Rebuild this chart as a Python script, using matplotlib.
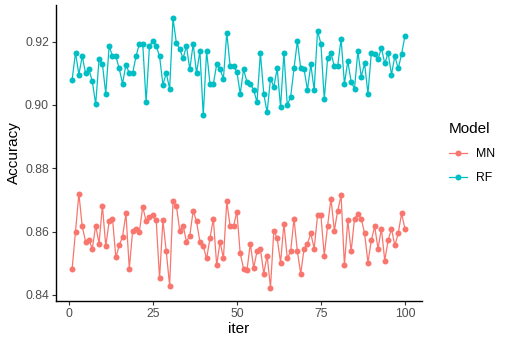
import matplotlib
matplotlib.use("Agg")
import matplotlib.pyplot as plt

plt.rcParams['font.family'] = ['Liberation Sans', 'DejaVu Sans']

# Accuracy per iteration
iters = list(range(1, 101))

rf_acc = [
    0.9080, 0.9165, 0.9096, 0.9154, 0.9100, 0.9112, 0.9074, 0.9002, 0.9144, 0.9129,
    0.9035, 0.9186, 0.9154, 0.9154, 0.9115, 0.9067, 0.9127, 0.9100, 0.9100, 0.9154,
    0.9193, 0.9193, 0.9009, 0.9186, 0.9202, 0.9186, 0.9154, 0.9064, 0.9100, 0.9051,
    0.9273, 0.9196, 0.9176, 0.9147, 0.9186, 0.9112, 0.9193, 0.9100, 0.9170, 0.8967,
    0.9170, 0.9067, 0.9066, 0.9128, 0.9112, 0.9083, 0.9228, 0.9122, 0.9122, 0.9105,
    0.9035, 0.9112, 0.9073, 0.9067, 0.9047, 0.9009, 0.9164, 0.9035, 0.8976, 0.9083,
    0.9057, 0.9115, 0.8993, 0.9164, 0.8999, 0.9025, 0.9115, 0.9202, 0.9115, 0.9112,
    0.9047, 0.9128, 0.9047, 0.9234, 0.9193, 0.9018, 0.9147, 0.9164, 0.9122, 0.9122,
    0.9209, 0.9067, 0.9138, 0.9073, 0.9051, 0.9170, 0.9089, 0.9131, 0.9035, 0.9164,
    0.9160, 0.9144, 0.9180, 0.9131, 0.9164, 0.9096, 0.9154, 0.9115, 0.9160, 0.9218,
]

mn_acc = [
    0.8483, 0.8600, 0.8720, 0.8616, 0.8568, 0.8572, 0.8546, 0.8619, 0.8562, 0.8682,
    0.8553, 0.8632, 0.8641, 0.8518, 0.8556, 0.8584, 0.8657, 0.8483, 0.8603, 0.8609,
    0.8600, 0.8679, 0.8632, 0.8647, 0.8651, 0.8635, 0.8452, 0.8635, 0.8537, 0.8429,
    0.8695, 0.8682, 0.8603, 0.8619, 0.8568, 0.8587, 0.8666, 0.8632, 0.8568, 0.8553,
    0.8515, 0.8578, 0.8641, 0.8493, 0.8568, 0.8515, 0.8695, 0.8616, 0.8616, 0.8663,
    0.8531, 0.8483, 0.8477, 0.8562, 0.8486, 0.8537, 0.8546, 0.8467, 0.8524, 0.8423,
    0.8603, 0.8578, 0.8502, 0.8625, 0.8515, 0.8537, 0.8641, 0.8537, 0.8467, 0.8546,
    0.8562, 0.8594, 0.8546, 0.8651, 0.8651, 0.8524, 0.8619, 0.8704, 0.8603, 0.8666,
    0.8714, 0.8493, 0.8635, 0.8537, 0.8641, 0.8654, 0.8641, 0.8594, 0.8502, 0.8572,
    0.8616, 0.8546, 0.8609, 0.8508, 0.8572, 0.8609, 0.8556, 0.8594, 0.8657, 0.8609,
]

models = ['MN', 'RF']
colors = {'MN': '#F8766D', 'RF': '#00BFC4'}
series = {'MN': mn_acc, 'RF': rf_acc}

x_ticks = [0, 25, 50, 75, 100]
y_ticks = [0.84, 0.86, 0.88, 0.90, 0.92]

fig = plt.figure(figsize=(5.07, 3.46), dpi=100)
ax = fig.add_axes([0.1095, 0.130, 0.722, 0.8555])

for m in models:
    ax.plot(iters, series[m], color=colors[m], linewidth=0.9,
            marker='o', markersize=4.3, markeredgewidth=0, label=m)

# ggplot-style 5% expansion
lo = min(mn_acc + rf_acc)
hi = max(mn_acc + rf_acc)
pad = (hi - lo) * 0.05
ax.set_ylim(lo - pad, hi + pad)
ax.set_xlim(1 - 99 * 0.05, 100 + 99 * 0.05)

ax.set_xticks(x_ticks)
ax.set_xticklabels([str(t) for t in x_ticks])
ax.set_yticks(y_ticks)
ax.set_yticklabels([f'{t:.2f}' for t in y_ticks])

for side in ['top', 'right']:
    ax.spines[side].set_visible(False)
for side in ['left', 'bottom']:
    ax.spines[side].set_linewidth(1.0)
    ax.spines[side].set_color('black')

ax.tick_params(axis='both', length=2.75, width=0.8, color='#333333',
               labelsize=8.8, labelcolor='#4D4D4D', pad=2)

ax.set_xlabel('iter', fontsize=11, color='black', labelpad=2)
ax.set_ylabel('Accuracy', fontsize=11, color='black', labelpad=3)

leg = ax.legend(title='Model', loc='center left', bbox_to_anchor=(1.058, 0.5),
                frameon=False, fontsize=8.8, title_fontsize=11, borderpad=0,
                handlelength=1.5, labelspacing=1.0, handletextpad=0.75,
                alignment='left')

fig.savefig('out.png', dpi=100)
